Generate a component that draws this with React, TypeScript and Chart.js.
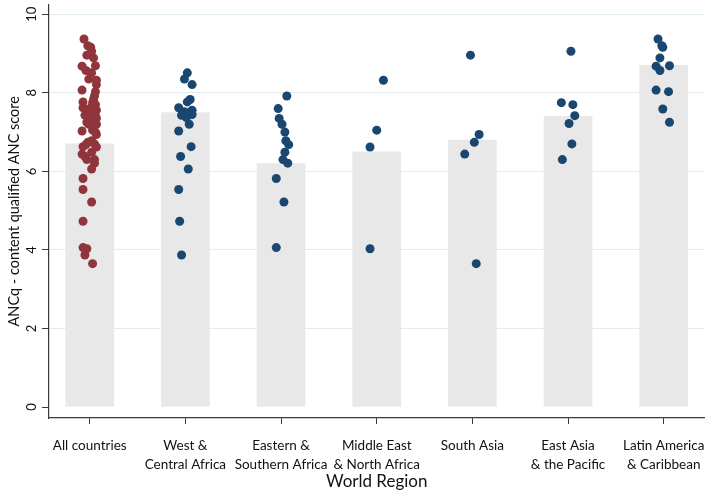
import React, { useEffect, useRef } from "react";
import { Chart, registerables } from "chart.js";

Chart.register(...registerables);

const regionLabels: string[][] = [
  ["All countries"],
  ["West &", "Central Africa"],
  ["Eastern &", "Southern Africa"],
  ["Middle East", "& North Africa"],
  ["South Asia"],
  ["East Asia", "& the Pacific"],
  ["Latin America", "& Caribbean"],
];

const barScores = [6.7, 7.5, 6.2, 6.5, 6.8, 7.4, 8.7];
const yTickValues = [0, 2, 4, 6, 8, 10];

const allValues = [9.37, 9.2, 9.16, 9.06, 8.96, 8.89, 8.69, 8.68, 8.57, 8.51, 8.35, 8.32, 8.21, 8.07, 8.03, 7.92, 7.83, 7.77, 7.75, 7.7, 7.62, 7.6, 7.59, 7.56, 7.52, 7.45, 7.43, 7.42, 7.37, 7.35, 7.25, 7.22, 7.2, 7.2, 7.05, 7.03, 7.0, 6.94, 6.78, 6.74, 6.7, 6.68, 6.63, 6.62, 6.49, 6.44, 6.38, 6.3, 6.3, 6.21, 6.06, 5.82, 5.54, 5.22, 4.73, 4.06, 4.03, 3.87, 3.65];
const allJitter = [-0.06, -0.02, 0.01, 0.02, -0.03, 0.04, 0.06, -0.08, -0.04, 0.02, -0.01, 0.07, 0.07, -0.08, 0.06, 0.05, 0.04, -0.07, 0.03, 0.06, -0.07, 0.0, 0.05, 0.07, -0.03, 0.03, -0.05, 0.06, 0.0, 0.07, -0.03, 0.04, 0.07, -0.01, 0.03, -0.08, 0.06, 0.07, 0.02, -0.02, 0.05, -0.04, -0.07, 0.07, 0.02, -0.08, -0.05, 0.05, -0.03, 0.05, 0.02, -0.07, -0.07, 0.02, -0.07, -0.07, -0.03, -0.05, 0.03];

const westValues = [8.51, 8.35, 8.21, 7.83, 7.77, 7.62, 7.56, 7.52, 7.43, 7.45, 7.37, 7.2, 7.03, 6.63, 6.38, 6.06, 5.54, 4.73, 3.87];
const westJitter = [0.02, -0.01, 0.07, 0.05, 0.02, -0.07, 0.07, -0.01, -0.04, 0.07, 0.01, 0.04, -0.07, 0.06, -0.05, 0.03, -0.07, -0.06, -0.04];

const eastSouthValues = [7.92, 7.6, 7.35, 7.2, 7.0, 6.78, 6.68, 6.49, 6.3, 6.21, 5.82, 5.22, 4.06];
const eastSouthJitter = [0.06, -0.03, -0.02, 0.01, 0.04, 0.05, 0.08, 0.04, 0.02, 0.07, -0.05, 0.03, -0.05];

const menaValues = [8.32, 7.05, 6.62, 4.03];
const menaJitter = [0.07, 0.0, -0.07, -0.07];

const southAsiaValues = [8.96, 6.94, 6.74, 6.44, 3.65];
const southAsiaJitter = [-0.02, 0.07, 0.02, -0.08, 0.04];

const eastAsiaValues = [9.06, 7.75, 7.7, 7.42, 7.22, 6.7, 6.3];
const eastAsiaJitter = [0.03, -0.07, 0.05, 0.07, 0.01, 0.04, -0.06];

const latinValues = [9.37, 9.2, 9.16, 8.89, 8.68, 8.57, 8.69, 8.07, 8.03, 7.59, 7.25];
const latinJitter = [-0.06, -0.02, -0.01, -0.04, -0.08, -0.04, 0.06, -0.08, 0.05, -0.01, 0.06];

const MAROON = "#90353b";
const NAVY = "#1a476f";
const BAR = "#e8e8e8";
const GRID = "#e2eded";
const AXIS = "#3a3a3a";
const FONT = "Lato";

function points(idx: number, values: number[], jitter: number[]) {
  return values.map((v, i) => ({ x: idx + jitter[i], y: v }));
}

export default function App() {
  const ref = useRef<HTMLCanvasElement | null>(null);

  useEffect(() => {
    document.body.style.margin = "0";
    const canvas = ref.current;
    if (!canvas) return;

    const regions = [
      { values: westValues, jitter: westJitter },
      { values: eastSouthValues, jitter: eastSouthJitter },
      { values: menaValues, jitter: menaJitter },
      { values: southAsiaValues, jitter: southAsiaJitter },
      { values: eastAsiaValues, jitter: eastAsiaJitter },
      { values: latinValues, jitter: latinJitter },
    ];

    const scatterSets: any[] = [
      {
        type: "scatter",
        data: points(0, allValues, allJitter),
        backgroundColor: MAROON,
        borderWidth: 0,
        pointRadius: 4.5,
        order: 1,
      },
      ...regions.map((r, i) => ({
        type: "scatter",
        data: points(i + 1, r.values, r.jitter),
        backgroundColor: NAVY,
        borderWidth: 0,
        pointRadius: 4.5,
        order: 1,
      })),
    ];

    const chart = new Chart(canvas, {
      type: "bar",
      data: {
        datasets: [
          ...scatterSets,
          {
            type: "bar",
            data: barScores.map((v, i) => ({ x: i, y: v })),
            backgroundColor: BAR,
            borderWidth: 0,
            barThickness: 48,
            order: 2,
          },
        ],
      },
      options: {
        responsive: false,
        animation: false,
        devicePixelRatio: 1,
        layout: { padding: { top: 2, left: 0, right: 0, bottom: 0 } },
        plugins: { legend: { display: false }, tooltip: { enabled: false } },
        scales: {
          x: {
            type: "linear",
            min: -0.4256,
            max: 6.426,
            offset: false,
            afterBuildTicks: (scale: any) => {
              scale.ticks = regionLabels.map((_, i) => ({ value: i }));
            },
            afterFit: (scale: any) => {
              scale.height = 72;
              scale.paddingLeft = 0;
              scale.paddingRight = 0;
            },
            grid: {
              drawOnChartArea: false,
              drawTicks: true,
              tickLength: 6,
              tickColor: AXIS,
              tickWidth: 1,
              offset: false,
            },
            border: { display: true, color: AXIS, width: 1.2 },
            ticks: {
              autoSkip: false,
              maxRotation: 0,
              minRotation: 0,
              padding: 12,
              color: "#111",
              font: { family: FONT, size: 13.5, lineHeight: 1.4 },
              callback: (v: any) => regionLabels[Math.round(Number(v))] ?? "",
            },
            title: {
              display: true,
              text: "World Region",
              color: "#111",
              font: { family: FONT, size: 17, lineHeight: 1.0 },
              padding: { top: 0, bottom: 0 },
            },
          },
          y: {
            type: "linear",
            min: -0.28,
            max: 10.25,
            afterBuildTicks: (scale: any) => {
              scale.ticks = yTickValues.map((v) => ({ value: v }));
            },
            afterFit: (scale: any) => {
              scale.width = 49;
              scale.paddingTop = 0;
              scale.paddingBottom = 0;
            },
            grid: {
              drawOnChartArea: true,
              color: (ctx: any) => (ctx.tick && ctx.tick.value === 0 ? "rgba(0,0,0,0)" : GRID),
              lineWidth: 1,
              drawTicks: true,
              tickLength: 7,
              tickColor: AXIS,
              tickWidth: 1,
            },
            border: { display: true, color: AXIS, width: 1.2 },
            ticks: {
              minRotation: 90,
              maxRotation: 90,
              crossAlign: "center",
              padding: 3,
              color: "#111",
              font: { family: FONT, size: 13 },
              callback: (v: any) => String(v),
            },
            title: {
              display: true,
              text: "ANCq - content qualified ANC score",
              color: "#111",
              font: { family: FONT, size: 14.5, lineHeight: 1.2 },
              padding: { top: 6, bottom: 0 },
            },
          },
        },
      } as any,
    });

    return () => chart.destroy();
  }, []);

  return (
    <div style={{ position: "absolute", left: 0, top: 0, width: 709, height: 490 }}>
      <canvas ref={ref} width={709} height={490} style={{ display: "block" }} />
    </div>
  );
}
